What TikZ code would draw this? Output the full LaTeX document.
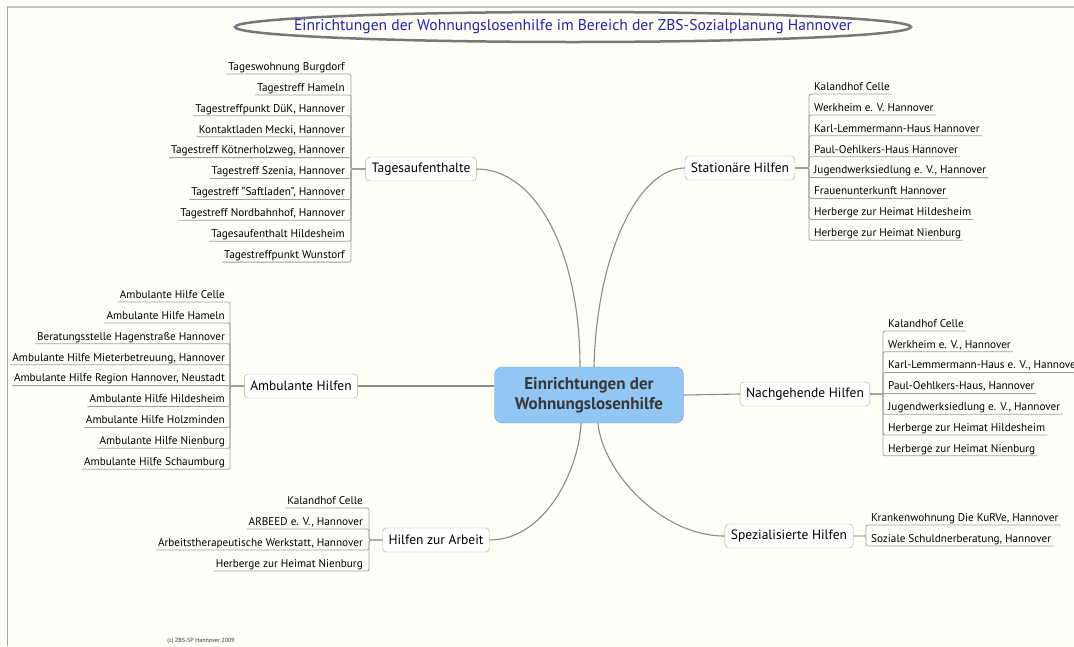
\documentclass[tikz,border=0pt]{standalone}
\usepackage{fontspec}
\setmainfont{PT Sans}
\usetikzlibrary{shapes.geometric}

\definecolor{paper}{HTML}{FFFFF6}
\definecolor{framegray}{HTML}{C4C4BC}
\definecolor{edgegray}{HTML}{8A8A8A}
\definecolor{hubblue}{HTML}{92C6F4}
\definecolor{hubline}{HTML}{6F9CC8}
\definecolor{hubtext}{HTML}{383838}
\definecolor{titleblue}{HTML}{2222BB}
\definecolor{titlering}{HTML}{777777}

\tikzset{
  hub/.style={draw=hubline, fill=hubblue, rounded corners=8pt, minimum width=189pt,
    minimum height=56pt, align=center, text=hubtext,
    font=\fontsize{17}{20}\selectfont\bfseries},
  topic/.style={draw=gray!70, fill=white, rounded corners=4pt, minimum height=24pt,
    inner xsep=6pt, font=\fontsize{13.5}{16}\selectfont},
  leaf/.style={inner xsep=2pt, inner ysep=1pt, text height=8pt, text depth=2.5pt,
    font=\fontsize{11.2}{13}\selectfont},
  branch/.style={draw=edgegray, line width=1.1pt},
  twig/.style={draw=gray!75, line width=0.8pt, rounded corners=2pt},
}

\begin{document}
\begin{tikzpicture}[x=1pt, y=-1pt]
  \clip (0,0) rectangle (1074,646);
  \fill[paper] (0,0) rectangle (1074,646);

  % Frame lines
  \draw[framegray, line width=2pt] (7,6.5) -- (1074,6.5);
  \draw[gray!70, line width=1pt] (7.5,6) -- (7.5,646);

  % Title
  \draw[titlering, line width=2.5pt, fill=paper] (573,27) ellipse [x radius=338, y radius=15];
  \node[text=titleblue, font=\fontsize{15.6}{18}\selectfont] (title) at (573,27)
    {Einrichtungen der Wohnungslosenhilfe im Bereich der ZBS-Sozialplanung Hannover};

  % Centre and main branches
  \node[hub] (hub) at (589,395) {Einrichtungen der\\Wohnungslosenhilfe};

  \node[topic] (ta) at (421,169) {Tagesaufenthalte};
  \node[topic] (st) at (740,168) {Stationäre Hilfen};
  \node[topic] (am) at (301,386) {Ambulante Hilfen};
  \node[topic] (ng) at (805,394) {Nachgehende Hilfen};
  \node[topic] (ar) at (436,540) {Hilfen zur Arbeit};
  \node[topic] (sp) at (789,536) {Spezialisierte Hilfen};

  \draw[branch] (ta.east) .. controls (535,169) and (580,250) .. ([xshift=-9pt]hub.north);
  \draw[branch] (st.west) .. controls (640,168) and (597,250) .. ([xshift=5pt]hub.north);
  \draw[branch] (am.east) -- (am.east -| hub.west);
  \draw[branch] (hub.east) -- (ng.west);
  \draw[branch] (ar.east) .. controls (545,540) and (579,470) .. ([xshift=-8pt]hub.south);
  \draw[branch] (sp.west) .. controls (660,536) and (602,470) .. ([xshift=9pt]hub.south);

  % Tagesaufenthalte
  \coordinate (tabar) at (351,169);
  \foreach \txt [count=\i] in {Tageswohnung Burgdorf, Tagestreff Hameln,
      {Tagestreffpunkt DüK, Hannover}, {Kontaktladen Mecki, Hannover},
      {Tagestreff Kötnerholzweg, Hannover}, {Tagestreff Szenia, Hannover},
      {Tagestreff "Saftladen", Hannover}, {Tagestreff Nordbahnhof, Hannover},
      Tagesaufenthalt Hildesheim, Tagestreffpunkt Wunstorf} {
    \node[leaf, anchor=south east] (ta\i) at ({347},{74+20.9*(\i-1)}) {\txt};
    \draw[twig] (ta\i.south west) -- (ta\i.south west -| tabar) -- (tabar) -- (ta.west);
  }

  % Stationaere Hilfen
  \coordinate (stbar) at (809,168);
  \foreach \txt [count=\i] in {Kalandhof Celle, Werkheim e. V. Hannover,
      Karl-Lemmermann-Haus Hannover, Paul-Oehlkers-Haus Hannover,
      {Jugendwerksiedlung e. V., Hannover}, Frauenunterkunft Hannover,
      Herberge zur Heimat Hildesheim, Herberge zur Heimat Nienburg} {
    \node[leaf, anchor=south west] (st\i) at ({812},{94+20.9*(\i-1)}) {\txt};
    \draw[twig] (st\i.south east) -- (st\i.south east -| stbar) -- (stbar) -- (st.east);
  }

  % Ambulante Hilfen
  \coordinate (ambar) at (230,386);
  \foreach \txt [count=\i] in {Ambulante Hilfe Celle, Ambulante Hilfe Hameln,
      Beratungsstelle Hagenstraße Hannover, {Ambulante Hilfe Mieterbetreuung, Hannover},
      {Ambulante Hilfe Region Hannover, Neustadt}, Ambulante Hilfe Hildesheim,
      Ambulante Hilfe Holzminden, Ambulante Hilfe Nienburg, Ambulante Hilfe Schaumburg} {
    \node[leaf, anchor=south east] (am\i) at ({227},{302+20.9*(\i-1)}) {\txt};
    \draw[twig] (am\i.south west) -- (am\i.south west -| ambar) -- (ambar) -- (am.west);
  }

  % Nachgehende Hilfen
  \coordinate (ngbar) at (883,394);
  \foreach \txt [count=\i] in {Kalandhof Celle, {Werkheim e. V., Hannover},
      {Karl-Lemmermann-Haus e. V., Hannover}, {Paul-Oehlkers-Haus, Hannover},
      {Jugendwerksiedlung e. V., Hannover}, Herberge zur Heimat Hildesheim,
      Herberge zur Heimat Nienburg} {
    \node[leaf, anchor=south west] (ng\i) at ({886},{331+20.8*(\i-1)}) {\txt};
    \draw[twig] (ng\i.south east) -- (ng\i.south east -| ngbar) -- (ngbar) -- (ng.east);
  }

  % Hilfen zur Arbeit
  \coordinate (arbar) at (369,540);
  \foreach \txt [count=\i] in {Kalandhof Celle, {ARBEED e. V., Hannover},
      {Arbeitstherapeutische Werkstatt, Hannover}, Herberge zur Heimat Nienburg} {
    \node[leaf, anchor=south east] (ar\i) at ({365},{508+21*(\i-1)}) {\txt};
    \draw[twig] (ar\i.south west) -- (ar\i.south west -| arbar) -- (arbar) -- (ar.west);
  }

  % Spezialisierte Hilfen
  \coordinate (spbar) at (866,536);
  \foreach \txt [count=\i] in {{Krankenwohnung Die KuRVe, Hannover},
      {Soziale Schuldnerberatung, Hannover}} {
    \node[leaf, anchor=south west] (sp\i) at ({869},{525+21*(\i-1)}) {\txt};
    \draw[twig] (sp\i.south east) -- (sp\i.south east -| spbar) -- (spbar) -- (sp.east);
  }

  % Footer
  \node[font=\fontsize{6}{7}\selectfont, text=black!80] (foot) at (201,641) {(c) ZBS-SP Hannover 2009};
\end{tikzpicture}
\end{document}
